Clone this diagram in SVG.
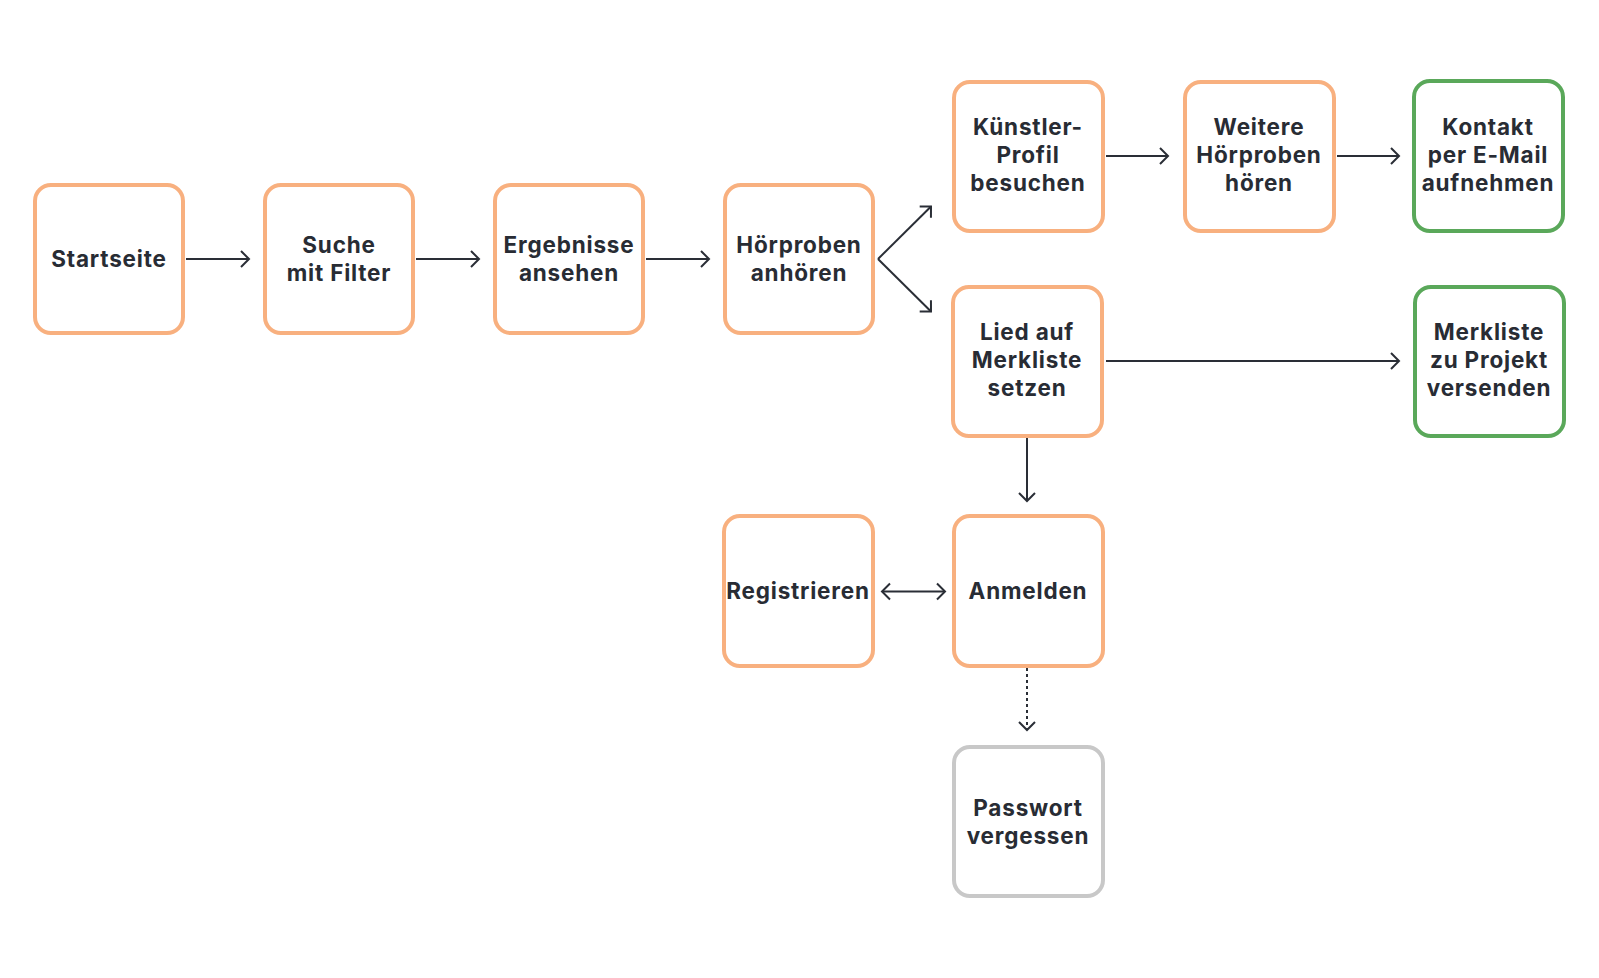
<svg xmlns="http://www.w3.org/2000/svg" width="1599" height="978" viewBox="0 0 1599 978">
<defs>
<style>
.box{fill:#fff;stroke-width:4}
.o{stroke:#f8b07f}
.g{stroke:#5aa85a}
.gr{stroke:#c8c8c8}
.t{font-family:Inter,"Open Sans","Liberation Sans",sans-serif;font-weight:700;font-size:22.5px;fill:#282c34;text-anchor:middle;letter-spacing:0.8px}
.c{stroke:#2a2e36;stroke-width:2;fill:none}
</style>
<marker id="ah" markerUnits="userSpaceOnUse" viewBox="-10 -10 12 20" refX="0" refY="0" markerWidth="12" markerHeight="20" orient="auto-start-reverse">
<path d="M-8,-8 L0,0 L-8,8" fill="none" stroke="#2a2e36" stroke-width="2"/>
</marker>
</defs>
<rect width="1599" height="978" fill="#fff"/>
<g id="connectors">
<line class="c" x1="186" y1="259" x2="249" y2="259" marker-end="url(#ah)"/>
<line class="c" x1="416" y1="259" x2="479" y2="259" marker-end="url(#ah)"/>
<line class="c" x1="646" y1="259" x2="709" y2="259" marker-end="url(#ah)"/>
<line class="c" x1="878" y1="259" x2="931" y2="206.5" marker-end="url(#ah)"/>
<line class="c" x1="878" y1="259" x2="931" y2="311.5" marker-end="url(#ah)"/>
<line class="c" x1="1106" y1="156" x2="1168" y2="156" marker-end="url(#ah)"/>
<line class="c" x1="1337" y1="156" x2="1399" y2="156" marker-end="url(#ah)"/>
<line class="c" x1="1106" y1="361" x2="1399" y2="361" marker-end="url(#ah)"/>
<line class="c" x1="1027" y1="438" x2="1027" y2="501" marker-end="url(#ah)"/>
<line class="c" x1="882" y1="591.5" x2="945" y2="591.5" marker-start="url(#ah)" marker-end="url(#ah)"/>
<line class="c" x1="1027" y1="668" x2="1027" y2="730" stroke-dasharray="3,3" marker-end="url(#ah)"/>
</g>
<g id="startseite"><rect class="box o" x="35" y="185" width="148" height="148" rx="16"/><text class="t" x="109" y="267">Startseite</text></g>
<g id="suche"><rect class="box o" x="265" y="185" width="148" height="148" rx="16"/><text class="t" x="339" y="253">Suche</text><text class="t" x="339" y="281">mit Filter</text></g>
<g id="ergebnisse"><rect class="box o" x="495" y="185" width="148" height="148" rx="16"/><text class="t" x="569" y="253">Ergebnisse</text><text class="t" x="569" y="281">ansehen</text></g>
<g id="hoerproben"><rect class="box o" x="725" y="185" width="148" height="148" rx="16"/><text class="t" x="799" y="253">Hörproben</text><text class="t" x="799" y="281">anhören</text></g>
<g id="kuenstler"><rect class="box o" x="954" y="82" width="149" height="149" rx="16"/><text class="t" x="1028" y="135">Künstler-</text><text class="t" x="1028" y="163">Profil</text><text class="t" x="1028" y="191">besuchen</text></g>
<g id="weitere"><rect class="box o" x="1185" y="82" width="149" height="149" rx="16"/><text class="t" x="1259" y="135">Weitere</text><text class="t" x="1259" y="163">Hörproben</text><text class="t" x="1259" y="191">hören</text></g>
<g id="kontakt"><rect class="box g" x="1414" y="81" width="149" height="150" rx="16"/><text class="t" x="1488" y="135">Kontakt</text><text class="t" x="1488" y="163">per E-Mail</text><text class="t" x="1488" y="191">aufnehmen</text></g>
<g id="lied"><rect class="box o" x="953" y="287" width="149" height="149" rx="16"/><text class="t" x="1027" y="340">Lied auf</text><text class="t" x="1027" y="368">Merkliste</text><text class="t" x="1027" y="396">setzen</text></g>
<g id="merkliste"><rect class="box g" x="1415" y="287" width="149" height="149" rx="16"/><text class="t" x="1489" y="340">Merkliste</text><text class="t" x="1489" y="368">zu Projekt</text><text class="t" x="1489" y="396">versenden</text></g>
<g id="registrieren"><rect class="box o" x="724" y="516" width="149" height="150" rx="16"/><text class="t" x="798" y="599">Registrieren</text></g>
<g id="anmelden"><rect class="box o" x="954" y="516" width="149" height="150" rx="16"/><text class="t" x="1028" y="599">Anmelden</text></g>
<g id="passwort"><rect class="box gr" x="954" y="747" width="149" height="149" rx="16"/><text class="t" x="1028" y="816">Passwort</text><text class="t" x="1028" y="844">vergessen</text></g>
</svg>
